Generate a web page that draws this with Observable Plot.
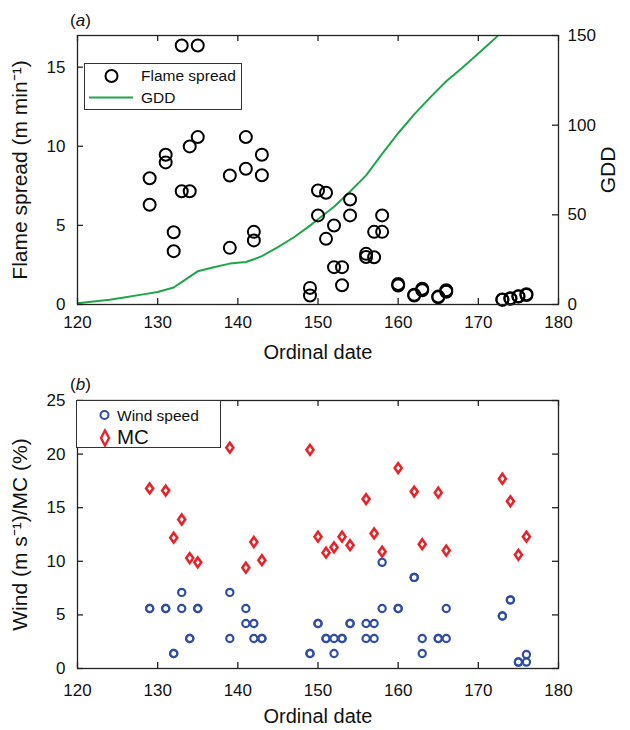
<!DOCTYPE html>
<html><head><meta charset="utf-8">
<script src="https://cdn.jsdelivr.net/npm/d3@7"></script>
<script src="https://cdn.jsdelivr.net/npm/@observablehq/plot@0.6"></script>
<style>
body{margin:0;background:#fff;font-family:"Liberation Sans",Arial,sans-serif;color:#111;}
.panel{position:relative;width:630px;height:365px;}
.tag{position:absolute;font-size:17px;}
.legend{position:absolute;box-sizing:border-box;border:1.5px solid #333;background:#fff;}
.legend .it{position:absolute;white-space:nowrap;}
svg g[aria-label="x-axis label"]{font-size:20px;}
svg g[aria-label="y-axis label"]{font-size:21px;}
</style></head><body>
<div id="a" class="panel"></div>
<div id="b" class="panel"></div>
<script>
// ---- data ----
const days = [129,131,132,133,134,135,139,141,142,143,149,150,151,152,153,154,156,157,158,160,162,163,165,166,173,174,175,176];
const flameA = [7.98,9.46,4.57,16.37,9.99,16.37,8.15,10.58,4.59,9.46,1.05,7.2,7.06,4.99,2.36,6.64,3.2,4.59,5.63,1.3,0.62,1.0,0.5,0.9,0.32,0.4,0.52,0.65];
const flameB = [6.3,8.98,3.37,7.16,7.16,10.58,3.58,8.58,4.05,8.17,0.57,5.63,4.15,2.36,1.22,5.63,3.0,2.99,4.59,1.2,0.57,0.9,0.46,0.8,0.3,0.36,0.5,0.6];
const gddDays = [120,122,124,126,128,130,132,133,134,135,137,139,141,142,143,145,147,149,150,152,154,156,158,160,162,164,166,168,170,172,173];
const gddVals = [0.7,1.7,2.6,4.0,5.5,7.0,9.5,12.5,15.5,18.5,20.8,22.8,23.7,25.2,27.0,32,37.5,44,47.5,54.5,63,72,84,95.5,106,115.5,124.5,132,140,148,152.5];
const windA = [5.6,5.6,1.4,7.1,2.8,5.6,7.1,5.6,4.2,2.8,1.4,4.2,2.8,2.8,2.8,4.2,4.2,4.2,9.9,5.6,8.5,2.8,2.8,5.6,4.9,6.4,0.6,1.3];
const windB = [5.6,5.6,1.4,5.6,2.8,5.6,2.8,4.2,2.8,2.8,1.4,4.2,2.8,1.4,2.8,4.2,2.8,2.8,5.6,5.6,8.5,1.4,2.8,2.8,4.9,6.4,0.6,0.6];
const mc = [16.8,16.6,12.2,13.9,10.3,9.9,20.6,9.4,11.8,10.1,20.4,12.3,10.8,11.3,12.3,11.5,15.8,12.6,10.9,18.7,16.5,11.6,16.4,11.0,17.7,15.6,10.6,12.3];
const xTicks = [120,130,140,150,160,170,180];
const flameTicks = [0,5,10,15];
const gddTicks = [0,50,100,150];
const lowerTicks = [0,5,10,15,20,25];

// ---- tables ----
const flame = days.flatMap((d,i) => [{day:d, v:flameA[i]}, {day:d, v:flameB[i]}]);
const gdd = gddDays.map((d,i) => ({day:d, gdd:gddVals[i]}));
const wind = days.flatMap((d,i) => [{day:d, v:windA[i]}, {day:d, v:windB[i]}]);
const mcData = days.map((d,i) => ({day:d, v:mc[i]}));

const green = "#1fa64a", blue = "#2f4ea8", red = "#e8242a";
const k = 17/150;
const font = "Liberation Sans, Arial, sans-serif";
const tallDiamond = {draw(ctx, size){ const r = Math.sqrt(size/Math.PI); const w = r*0.7, h = r*0.98;
  ctx.moveTo(0,-h); ctx.lineTo(w,0); ctx.lineTo(0,h); ctx.lineTo(-w,0); ctx.closePath(); }};

const W = 630, H = 365, mL = 77, mR = 72, mT = 35, T = 6;
const innerW = W - mL - mR;
const common = {width:W, height:H, marginLeft:mL, marginRight:mR, marginTop:mT,
  style:{fontFamily:font, fontSize:"17px", color:"#111", background:"#fff", overflow:"visible"}};

// inward tick marks on all four sides
function inwardTicks(xt, yt, innerH){
  const s = {stroke:"#222", strokeWidth:1.3};
  return [
    Plot.tickX(xt, {x:d=>d, insetTop:innerH - T, ...s}),
    Plot.tickX(xt, {x:d=>d, insetBottom:innerH - T, ...s}),
    Plot.tickY(yt, {y:d=>d, insetRight:innerW - T, ...s}),
    Plot.tickY(yt, {y:d=>d, insetLeft:innerW - T, ...s})
  ];
}

const mBA = 61, mBB = 62;
const plotA = Plot.plot({
  ...common, marginBottom:mBA,
  x:{domain:[120,180]}, y:{domain:[0,17]},
  marks:[
    Plot.line(gdd, {x:"day", y:d=>d.gdd*k, stroke:green, strokeWidth:2, clip:true}),
    Plot.dot(flame, {x:"day", y:"v", r:6, stroke:"#000", strokeWidth:2}),
    Plot.frame({stroke:"#222", strokeWidth:1.3}),
    Plot.tickX(xTicks, {x:d=>d, insetTop:H-mT-mBA-T, stroke:"#222", strokeWidth:1.3}),
    Plot.tickX(xTicks, {x:d=>d, insetBottom:H-mT-mBA-T, stroke:"#222", strokeWidth:1.3}),
    Plot.tickY(flameTicks, {y:d=>d, insetRight:innerW-T, stroke:"#222", strokeWidth:1.3}),
    Plot.tickY(gddTicks, {y:d=>d*k, insetLeft:innerW-T, stroke:"#222", strokeWidth:1.3}),
    Plot.axisX({ticks:xTicks, tickSize:0, tickPadding:11, label:"Ordinal date", labelAnchor:"center", labelOffset:54, labelArrow:"none"}),
    Plot.axisY({ticks:flameTicks, tickSize:0, tickPadding:12, label:"Flame spread (m min⁻¹)", labelAnchor:"center", labelOffset:65, labelArrow:"none"}),
    Plot.axisY({anchor:"right", ticks:gddTicks.map(g=>g*k), tickFormat:d=>String(Math.round(d/k)), tickSize:0, tickPadding:9, label:"GDD", labelAnchor:"center", labelOffset:56, labelArrow:"none"})
  ]
});

const plotB = Plot.plot({
  ...common, marginBottom:mBB,
  x:{domain:[120,180]}, y:{domain:[0,25]},
  marks:[
    Plot.dot(wind, {x:"day", y:"v", r:3.6, stroke:blue, strokeWidth:2.2}),
    Plot.dot(mcData, {x:"day", y:"v", r:5, symbol:tallDiamond, stroke:red, strokeWidth:2.6}),
    Plot.frame({stroke:"#222", strokeWidth:1.3}),
    ...inwardTicks(xTicks, lowerTicks, H-mT-mBB),
    Plot.axisX({ticks:xTicks, tickSize:0, tickPadding:15, label:"Ordinal date", labelAnchor:"center", labelOffset:54, labelArrow:"none"}),
    Plot.axisY({ticks:lowerTicks, tickSize:0, tickPadding:12, label:"Wind (m s⁻¹)/MC (%)", labelAnchor:"center", labelOffset:65, labelArrow:"none"})
  ]
});

document.getElementById("a").appendChild(plotA);
document.getElementById("b").appendChild(plotB);

// panel tags
function tag(el, letter, x, y){ const t=document.createElement("div"); t.className="tag";
  t.innerHTML = "(<i>"+letter+"</i>)"; t.style.left=x+"px"; t.style.top=y+"px"; el.appendChild(t); }
tag(document.getElementById("a"), "a", 70, 11);
tag(document.getElementById("b"), "b", 70, 10);

// legends
function legend(el, box, items){
  const L=document.createElement("div"); L.className="legend";
  Object.assign(L.style,{left:box.x+"px",top:box.y+"px",width:box.w+"px",height:box.h+"px"});
  items.forEach(it=>{ const s=document.createElement("div"); s.className="it";
    Object.assign(s.style,{left:it.x+"px",top:it.y+"px",fontSize:it.fs+"px"});
    s.innerHTML = it.sym + '<span style="position:absolute;left:'+it.tx+'px;top:0;line-height:'+it.fs+'px">'+it.text+'</span>';
    L.appendChild(s); });
  el.appendChild(L);
}
legend(document.getElementById("a"), {x:84,y:63,w:158,h:47}, [
  {x:17, y:4, fs:15.5, tx:39, text:"Flame spread",
   sym:'<svg width="20" height="18" style="position:absolute;left:0;top:-1px"><circle cx="9.5" cy="9" r="6" fill="none" stroke="#000" stroke-width="2"/></svg>'},
  {x:4, y:26, fs:15.5, tx:52, text:"GDD",
   sym:'<svg width="46" height="16" style="position:absolute;left:0;top:0"><line x1="0" x2="44" y1="7.5" y2="7.5" stroke="'+green+'" stroke-width="2"/></svg>'}
]);
legend(document.getElementById("b"), {x:76,y:35,w:145,h:48}, [
  {x:20, y:7, fs:15.5, tx:20, text:"Wind speed",
   sym:'<svg width="16" height="16" style="position:absolute;left:0;top:-1px"><circle cx="7.5" cy="8" r="4" fill="none" stroke="'+blue+'" stroke-width="2"/></svg>'},
  {x:20, y:26, fs:20.5, tx:20, text:"MC",
   sym:'<svg width="16" height="20" style="position:absolute;left:0;top:1px"><path d="M8,2.5 L12,10 L8,17.5 L4,10 Z" fill="none" stroke="'+red+'" stroke-width="2.4"/></svg>'}
]);
</script>
</body></html>
